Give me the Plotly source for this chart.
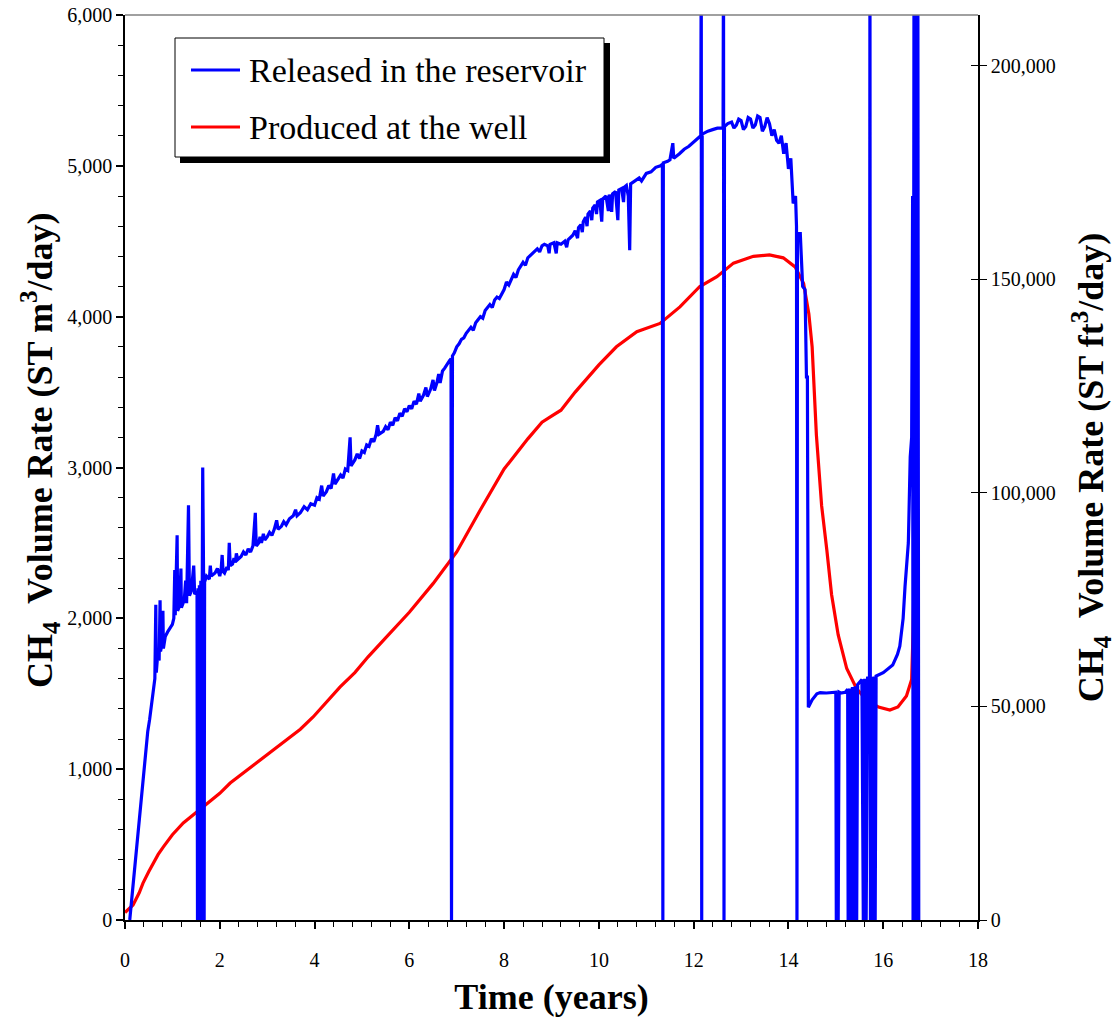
import plotly.graph_objects as go

# ---------------- data ----------------
blue_t = [0.10, 0.13, 0.17, 0.20, 0.23, 0.27, 0.30, 0.33, 0.37, 0.40, 0.44, 0.48, 0.52, 0.56, 0.60, 0.63,
          0.65, 0.66, 0.69, 0.72, 0.74, 0.75, 0.78, 0.80, 0.81, 0.85, 0.90, 0.95, 1.00, 1.03, 1.05, 1.06,
          1.10, 1.11, 1.15, 1.18, 1.19, 1.25, 1.28, 1.30, 1.34, 1.36, 1.40, 1.45, 1.47, 1.52, 1.53, 1.54,
          1.56, 1.57, 1.59, 1.60, 1.62, 1.63, 1.64, 1.66, 1.67, 1.68, 1.72, 1.78, 1.80, 1.82, 1.90, 1.95,
          2.00, 2.03, 2.05, 2.07, 2.10, 2.15, 2.18, 2.20, 2.22, 2.27, 2.30, 2.33, 2.35, 2.38, 2.45, 2.50,
          2.55, 2.60, 2.65, 2.70, 2.75, 2.77, 2.82, 2.85, 2.88, 2.92, 2.95, 3.00, 3.05, 3.10, 3.15, 3.20,
          3.23, 3.30, 3.35, 3.40, 3.47, 3.55, 3.60, 3.63, 3.70, 3.78, 3.85, 3.92, 4.00, 4.05, 4.10, 4.15,
          4.18, 4.25, 4.30, 4.35, 4.40, 4.43, 4.50, 4.55, 4.60, 4.65, 4.70, 4.75, 4.77, 4.85, 4.90, 4.95,
          5.00, 5.05, 5.10, 5.15, 5.20, 5.25, 5.30, 5.33, 5.36, 5.45, 5.50, 5.55, 5.60, 5.65, 5.70, 5.75,
          5.80, 5.85, 5.90, 5.95, 6.00, 6.05, 6.10, 6.15, 6.20, 6.23, 6.30, 6.35, 6.38, 6.45, 6.50, 6.53,
          6.58, 6.62, 6.65, 6.70, 6.75, 6.80, 6.85, 6.88, 6.89, 6.91, 6.95, 7.00, 7.05, 7.10, 7.15, 7.20,
          7.30, 7.35, 7.40, 7.50, 7.55, 7.60, 7.70, 7.75, 7.80, 7.85, 7.90, 8.00, 8.05, 8.10, 8.20, 8.25,
          8.30, 8.40, 8.45, 8.50, 8.60, 8.70, 8.75, 8.80, 8.85, 8.92, 8.95, 8.97, 9.05, 9.10, 9.12, 9.20,
          9.28, 9.32, 9.35, 9.45, 9.50, 9.55, 9.57, 9.62, 9.65, 9.67, 9.72, 9.75, 9.77, 9.82, 9.85, 9.87,
          9.92, 9.95, 9.97, 10.02, 10.06, 10.08, 10.15, 10.20, 10.22, 10.27, 10.29, 10.35, 10.40, 10.42, 10.48, 10.52,
          10.54, 10.58, 10.62, 10.65, 10.67, 10.75, 10.85, 10.90, 11.00, 11.10, 11.20, 11.30, 11.34, 11.35, 11.36, 11.45,
          11.50, 11.56, 11.58, 11.70, 11.80, 11.90, 12.00, 12.08, 12.15, 12.16, 12.17, 12.18, 12.30, 12.40, 12.50, 12.62,
          12.63, 12.64, 12.65, 12.72, 12.80, 12.85, 12.90, 12.95, 13.00, 13.05, 13.10, 13.15, 13.20, 13.25, 13.30, 13.35,
          13.40, 13.45, 13.50, 13.55, 13.60, 13.65, 13.70, 13.75, 13.80, 13.85, 13.90, 13.95, 14.00, 14.05, 14.10, 14.15,
          14.17, 14.18, 14.19, 14.25, 14.30, 14.35, 14.38, 14.40, 14.42, 14.50, 14.60, 14.67, 14.80, 15.00, 15.01, 15.03,
          15.05, 15.07, 15.10, 15.20, 15.25, 15.26, 15.29, 15.32, 15.35, 15.38, 15.41, 15.44, 15.46, 15.55, 15.58, 15.61,
          15.64, 15.67, 15.71, 15.72, 15.73, 15.75, 15.78, 15.81, 15.83, 15.85, 16.00, 16.20, 16.30, 16.35, 16.42, 16.46,
          16.53, 16.57, 16.60, 16.62, 16.63, 16.65, 16.67, 16.69, 16.71, 16.73, 16.75]
blue_v = [0, 100, 200, 300, 380, 520, 640, 730, 880, 980, 1130, 1250, 1330, 1440, 1545, 1600,
          2090, 1640, 1760, 1720, 2120, 1780, 1830, 2050, 1800, 1880, 1910, 1940, 1960, 2000, 2320, 2020,
          2550, 2050, 2080, 2330, 2070, 2120, 2250, 2100, 2750, 2150, 2180, 2350, 2160, 2180, 0, 2200,
          0, 2220, 0, 2250, 0, 2230, 3000, 2210, 0, 2240, 2280, 2260, 2350, 2280, 2300, 2330,
          2280, 2330, 2420, 2310, 2300, 2340, 2320, 2500, 2350, 2360, 2400, 2370, 2430, 2390, 2410, 2440,
          2420, 2460, 2440, 2480, 2700, 2480, 2500, 2540, 2500, 2560, 2520, 2540, 2570, 2550, 2590, 2650,
          2590, 2610, 2640, 2620, 2660, 2680, 2720, 2680, 2700, 2740, 2720, 2760, 2750, 2800, 2790, 2880,
          2810, 2840, 2880, 2860, 2960, 2890, 2920, 2950, 2930, 2990, 2980, 3200, 3010, 3050, 3090, 3060,
          3110, 3100, 3150, 3140, 3190, 3170, 3220, 3280, 3220, 3240, 3270, 3250, 3300, 3280, 3330, 3310,
          3360, 3340, 3390, 3370, 3410, 3390, 3440, 3420, 3490, 3440, 3480, 3530, 3470, 3520, 3580, 3510,
          3560, 3620, 3560, 3640, 3660, 3690, 3710, 3720, 0, 3740, 3760, 3800, 3820, 3850, 3860, 3890,
          3930, 3910, 3960, 4000, 3990, 4040, 4080, 4060, 4110, 4130, 4120, 4180, 4230, 4210, 4280, 4260,
          4310, 4360, 4340, 4390, 4420, 4450, 4430, 4470, 4480, 4470, 4420, 4480, 4490, 4420, 4490, 4480,
          4500, 4460, 4510, 4540, 4570, 4520, 4590, 4610, 4560, 4630, 4660, 4600, 4680, 4700, 4640, 4720,
          4740, 4680, 4760, 4770, 4630, 4780, 4800, 4700, 4810, 4695, 4815, 4830, 4640, 4840, 4850, 4760,
          4860, 4870, 4800, 4440, 4880, 4900, 4920, 4900, 4950, 4960, 4990, 5000, 5010, 0, 5020, 5030,
          5040, 5150, 5050, 5080, 5110, 5130, 5160, 5180, 5200, 6500, 0, 5210, 5230, 5240, 5250, 5250,
          6500, 0, 5260, 5280, 5290, 5250, 5270, 5310, 5300, 5240, 5260, 5320, 5310, 5250, 5270, 5330,
          5320, 5230, 5260, 5320, 5280, 5200, 5240, 5170, 5150, 5200, 5080, 5150, 4980, 5050, 4750, 4800,
          4600, 0, 4550, 4550, 4200, 4180, 3600, 3600, 1410, 1460, 1500, 1508, 1505, 1510, 0, 1510,
          0, 1510, 1505, 1510, 1530, 0, 1535, 0, 1545, 0, 1550, 0, 1560, 1594, 0, 1600,
          0, 1605, 1610, 6500, 0, 1612, 0, 1615, 0, 1617, 1640, 1690, 1760, 1815, 2000, 2210,
          2500, 3070, 3200, 4800, 0, 6500, 0, 6500, 0, 6500, 0]

red_t = [0.00, 0.17, 0.30, 0.38, 0.50, 0.60, 0.70, 0.81, 1.00, 1.23, 1.45, 1.65, 2.00, 2.22, 2.50, 2.78,
         3.10, 3.41, 3.70, 3.97, 4.25, 4.54, 4.85, 5.13, 5.50, 6.00, 6.50, 7.00, 7.50, 8.00, 8.50, 8.80,
         9.00, 9.20, 9.50, 10.00, 10.37, 10.80, 11.29, 11.71, 12.13, 12.49, 12.84, 13.26, 13.60, 13.89,
         14.14, 14.32, 14.43, 14.50, 14.59, 14.70, 14.81, 14.91, 15.05, 15.23, 15.44, 15.65, 15.90, 16.14,
         16.31, 16.49, 16.60, 16.63, 16.67, 16.71]
red_v = [50, 100, 180, 245, 320, 378, 435, 485, 565, 643, 700, 750, 840, 908, 975, 1041,
         1115, 1193, 1265, 1346, 1440, 1545, 1640, 1745, 1870, 2040, 2230, 2440, 2720, 2990, 3190, 3300,
         3340, 3380, 3500, 3680, 3800, 3900, 3955, 4065, 4200, 4265, 4355, 4400, 4410, 4390,
         4330, 4220, 4020, 3800, 3215, 2747, 2453, 2158, 1890, 1667, 1532, 1459, 1412, 1392,
         1412, 1485, 1594, 1913, 2625, 3050]

series_names = ["Released in the reservoir", "Produced at the well"]
series_colors = ["#0000FF", "#FF0000"]

M3_TO_FT3 = 35.3147
x_ticks = [0, 2, 4, 6, 8, 10, 12, 14, 16, 18]
y_left_ticks = [0, 1000, 2000, 3000, 4000, 5000, 6000]
y_right_ticks = [0, 50000, 100000, 150000, 200000]

SERIF = "Liberation Serif"

# plot-area pixel geometry helpers (for legend / title placement only)
PL, PR, PT, PB = 125, 978, 15, 920
def px(x):
    return (x - PL) / (PR - PL)
def py(y):
    return (PB - y) / (PB - PT)

fig = go.Figure()
fig.add_trace(go.Scatter(x=red_t, y=red_v, mode="lines", name=series_names[1],
                         line=dict(color=series_colors[1], width=3.2), showlegend=False))
fig.add_trace(go.Scatter(x=blue_t, y=blue_v, mode="lines", name=series_names[0],
                         line=dict(color=series_colors[0], width=3.2), showlegend=False))
# carrier traces for secondary axes
fig.add_trace(go.Scatter(x=[None], y=[None], yaxis="y2", showlegend=False, hoverinfo="skip"))
fig.add_trace(go.Scatter(x=[None], y=[None], yaxis="y3", showlegend=False, hoverinfo="skip"))

axis_font = dict(family=SERIF, size=20, color="black")
title_font = dict(family=SERIF, size=36, color="black")

# manual legend (box with drop shadow)
shapes = [
    dict(type="line", xref="paper", yref="paper", x0=0, x1=1, y0=1, y1=1,
         line=dict(color="#808080", width=1.5)),
    dict(type="rect", xref="paper", yref="paper", layer="above",
         x0=px(180), x1=px(610), y0=py(163), y1=py(43), fillcolor="black", line=dict(width=0)),
    dict(type="rect", xref="paper", yref="paper", layer="above",
         x0=px(175), x1=px(604), y0=py(157), y1=py(38), fillcolor="white",
         line=dict(color="black", width=1)),
]
annotations = []
for i, (nm, col) in enumerate(zip(series_names, series_colors)):
    yy = 70 + 57 * i
    shapes.append(dict(type="line", xref="paper", yref="paper", layer="above",
                       x0=px(191), x1=px(240), y0=py(yy), y1=py(yy),
                       line=dict(color=col, width=3)))
    annotations.append(dict(text=nm, xref="paper", yref="paper", x=px(247), y=py(yy + 1),
                            xanchor="left", yanchor="middle", showarrow=False,
                            font=dict(family=SERIF, size=34, color="black")))

# left axis title as rotated annotation (sits slightly above the axis centre in the reference)
annotations.append(dict(text="<b>CH<sub>4</sub>  Volume Rate (ST m<sup>3</sup>/day)</b>",
                        xref="paper", yref="paper", x=px(40), y=py(450),
                        xanchor="center", yanchor="middle", textangle=-90, showarrow=False,
                        font=title_font))

fig.update_layout(
    width=1116, height=1020,
    margin=dict(l=PL, r=1116 - PR, t=PT, b=1020 - PB, autoexpand=False),
    plot_bgcolor="white", paper_bgcolor="white",
    showlegend=False,
    shapes=shapes, annotations=annotations,
    xaxis=dict(range=[0, 18], tickvals=x_ticks, ticks="outside", ticklen=7, tickwidth=1.5,
               tickcolor="black", showline=True, linecolor="black", linewidth=1.5,
               showgrid=False, zeroline=False, tickfont=axis_font, ticklabelstandoff=14,
               automargin=False,
               minor=dict(dtick=0.4, tick0=0, ticks="outside", ticklen=5, tickwidth=1, tickcolor="black"),
               title=dict(text="<b>Time (years)</b>", font=title_font, standoff=14)),
    yaxis=dict(range=[0, 6000], tickvals=y_left_ticks, tickformat=",d", ticks="outside", ticklen=7,
               tickwidth=1.5, tickcolor="black", showline=True, linecolor="black", linewidth=1.5,
               showgrid=False, zeroline=False, tickfont=axis_font, automargin=False,
               minor=dict(dtick=200, ticks="outside", ticklen=5, tickwidth=1, tickcolor="black")),
    yaxis2=dict(range=[0, 6000 * M3_TO_FT3], overlaying="y", side="right", anchor="x",
                tickvals=y_right_ticks, tickformat=",d", ticks="outside", ticklen=7, tickwidth=1,
                tickcolor="black", showline=True, linecolor="black", linewidth=1.5,
                showgrid=False, zeroline=False, tickfont=axis_font, automargin=False,
                title=dict(text="<b>CH<sub>4</sub>  Volume Rate (ST ft<sup>3</sup>/day)</b>",
                           font=title_font, standoff=28)),
    yaxis3=dict(range=[0, 6000 * M3_TO_FT3], overlaying="y", side="right", anchor="x",
                tickvals=y_right_ticks, ticks="inside", ticklen=7, tickwidth=1, tickcolor="black",
                showticklabels=False, showline=False, showgrid=False, zeroline=False,
                automargin=False),
)

fig.write_html("out.html")
